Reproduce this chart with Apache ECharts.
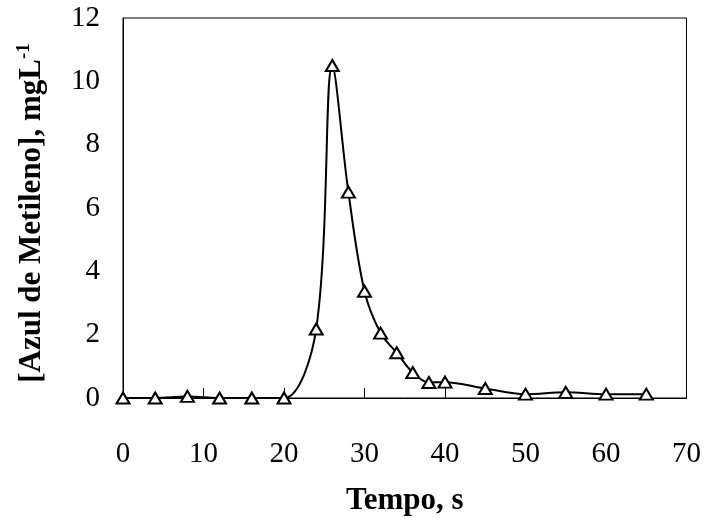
<!DOCTYPE html>
<html>
<head>
<meta charset="utf-8">
<script src="https://cdn.jsdelivr.net/npm/echarts@6/dist/echarts.min.js"></script>
<style>
html,body{margin:0;padding:0;background:#fff;}
#chart{width:704px;height:523px;}
</style>
</head>
<body>
<div id="chart"></div>
<script>
var tempo = [0, 4, 8, 12, 16, 20, 24, 26, 28, 30, 32, 34, 36, 38, 40, 45, 50, 55, 60, 65];
var azul  = [0, 0, 0.05, 0, 0, 0, 2.18, 10.5, 6.5, 3.37, 2.05, 1.43, 0.8, 0.49, 0.5, 0.3, 0.12, 0.18, 0.12, 0.12];
var xTicks = [0, 10, 20, 30, 40, 50, 60, 70];
var yTicks = [0, 2, 4, 6, 8, 10, 12];

var font = "'Liberation Serif', 'Times New Roman', serif";
var chart = echarts.init(document.getElementById('chart'), null, {renderer: 'canvas'});
var data = tempo.map(function (t, i) { return [t, azul[i]]; });

chart.setOption({
  animation: false,
  backgroundColor: '#fff',
  grid: {left: 123, right: 17, top: 18, bottom: 125, show: true, borderColor: '#000', borderWidth: 1, backgroundColor: 'transparent'},
  xAxis: {
    type: 'value',
    min: xTicks[0], max: xTicks[xTicks.length - 1], interval: 10,
    name: 'Tempo, s', nameLocation: 'middle', nameGap: 87,
    nameTextStyle: {fontFamily: font, fontSize: 31, fontWeight: 'bold', color: '#000'},
    axisLine: {show: true, lineStyle: {color: '#000', width: 1}},
    axisTick: {show: true, inside: true, length: 10, lineStyle: {color: '#000'}},
    axisLabel: {fontFamily: font, fontSize: 29, color: '#000', margin: 42},
    splitLine: {show: false}
  },
  yAxis: {
    type: 'value',
    min: yTicks[0], max: yTicks[yTicks.length - 1], interval: 2,
    name: '[Azul de Metileno], mgL{sup|-1}', nameLocation: 'middle', nameGap: 75, nameRotate: 90,
    nameTextStyle: {fontFamily: font, fontSize: 31, fontWeight: 'bold', color: '#000', padding: [0, 10, 0, 0],
      rich: {sup: {fontFamily: font, fontSize: 19, fontWeight: 'bold', color: '#000', verticalAlign: 'top', padding: [0, 0, 14, 0]}}},
    axisLine: {show: true, lineStyle: {color: '#000', width: 1}},
    axisTick: {show: false},
    axisLabel: {fontFamily: font, fontSize: 29, color: '#000', margin: 23},
    splitLine: {show: false}
  },
  series: [{
    type: 'line',
    data: data,
    smooth: 0.35,
    symbol: 'triangle',
    symbolSize: [13, 11],
    showAllSymbol: true,
    lineStyle: {color: '#000', width: 2},
    itemStyle: {color: '#fff', borderColor: '#000', borderWidth: 2},
    z: 3
  }]
});
</script>
</body>
</html>
